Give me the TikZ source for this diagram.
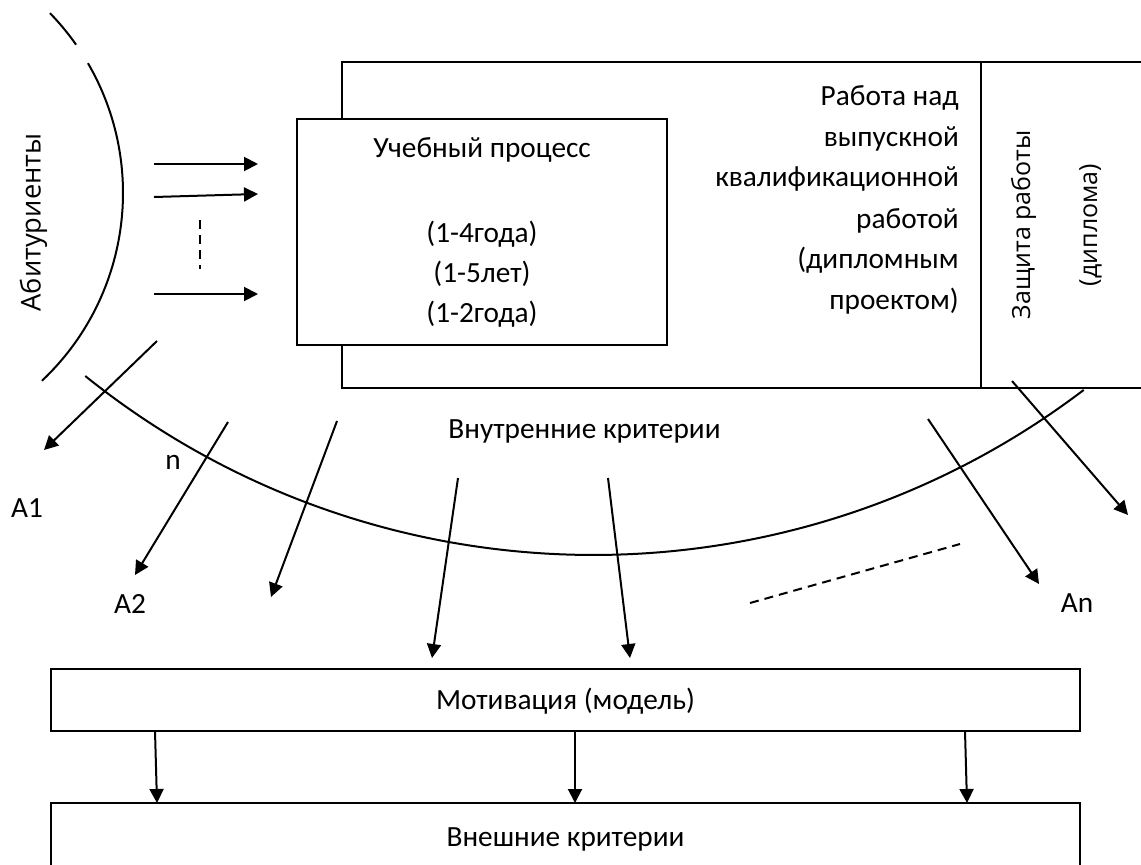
\documentclass[tikz,border=0pt]{standalone}
\usepackage{fontspec}
\setmainfont{Carlito}
\newfontfamily\osans{Open Sans}
\usetikzlibrary{arrows.meta}
\begin{document}
\begin{tikzpicture}[x=1pt,y=1pt,
  ln/.style={line width=2pt},
  arr/.style={ln,-{Triangle[length=14pt,width=14pt]}},
  dsh/.style={line width=2pt,dash pattern=on 9pt off 6pt},
  lbl/.style={font=\fontsize{29.3}{34}\selectfont,inner sep=0pt,anchor=base},
  rlbl/.style={font=\fontsize{29.3}{34}\selectfont,inner sep=0pt,anchor=base east},
  vlbl/.style={font=\osans\fontsize{25}{30}\selectfont,inner sep=0pt,anchor=base,rotate=90},
  boxnode/.style={draw,ln,fill=white,inner sep=0pt}]
\useasboundingbox (0,0) rectangle (1141,-865);
\clip (0,0) rectangle (1141,-865);
% outer frame (open to the right)
\coordinate (o1) at (1145,-62);
\coordinate (o2) at (342,-62);
\coordinate (o3) at (342,-388);
\coordinate (o4) at (1145,-388);
\coordinate (dv1) at (981,-62);
\coordinate (dv2) at (981,-388);
\draw[ln] (o1) -- (o2) -- (o3) -- (o4);
\draw[ln] (dv1) -- (dv2);
% inner box
\node[boxnode,minimum width=370pt,minimum height=226pt] (proc) at (482,-231.5) {};
\node[lbl] (t1) at (482,-157) {Учебный процесс};
\node[lbl] (t2) at (482,-242) {(1-4года)};
\node[lbl] (t3) at (482,-282) {(1-5лет)};
\node[lbl] (t4) at (482,-322) {(1-2года)};
% right text
\node[rlbl] (r1) at (959,-105) {Работа над};
\node[rlbl] (r2) at (959,-146) {выпускной};
\node[rlbl] (r3) at (959,-186) {квалификационной};
\node[rlbl] (r4) at (959,-228) {работой};
\node[rlbl] (r5) at (959,-268) {(дипломным};
\node[rlbl] (r6) at (959,-309) {проектом)};
% vertical texts
\node[vlbl] (zw) at (1030,-225) {Защита работы};
\node[vlbl] (dp) at (1097,-225) {(диплома)};
\node[vlbl,font=\osans\fontsize{27.3}{32}\selectfont] (ab) at (40.5,-222.5) {Абитуриенты};
% left arc
\coordinate (lc) at (-135,-193);
\draw[ln] (lc) ++(44.2:258) arc[start angle=44.2,end angle=35.1,radius=258];
\draw[ln] (lc) ++(30.2:258) arc[start angle=30.2,end angle=-46.7,radius=258];
% bottom arc
\coordinate (bc) at (593.4,256);
\draw[ln] (bc) ++(231.2:811) arc[start angle=231.2,end angle=307.2,radius=811];
% input arrows
\coordinate (a1s) at (154,-164); \coordinate (a1e) at (258,-164);
\coordinate (a2s) at (154,-197); \coordinate (a2e) at (258,-194);
\coordinate (a3s) at (154,-294); \coordinate (a3e) at (258,-294);
\coordinate (vd1) at (200,-220); \coordinate (vd2) at (200,-269);
\draw[arr] (a1s) -- (a1e);
\draw[arr] (a2s) -- (a2e);
\draw[arr] (a3s) -- (a3e);
\draw[dsh] (vd1) -- (vd2);
% output arrows
\coordinate (d1s) at (157,-341); \coordinate (d1e) at (44,-450);
\coordinate (d2s) at (228,-422); \coordinate (d2e) at (135,-575);
\coordinate (d3s) at (337,-421); \coordinate (d3e) at (271,-597);
\coordinate (d4s) at (458,-478); \coordinate (d4e) at (432,-658);
\coordinate (d5s) at (608,-478); \coordinate (d5e) at (630,-658);
\coordinate (d6s) at (928,-419); \coordinate (d6e) at (1039,-584);
\coordinate (d7s) at (1012,-381); \coordinate (d7e) at (1128,-515);
\draw[arr] (d1s) -- (d1e);
\draw[arr] (d2s) -- (d2e);
\draw[arr] (d3s) -- (d3e);
\draw[arr] (d4s) -- (d4e);
\draw[arr] (d5s) -- (d5e);
\draw[arr] (d6s) -- (d6e);
\draw[arr] (d7s) -- (d7e);
\coordinate (dd1) at (750,-603); \coordinate (dd2) at (960,-544);
\draw[dsh] (dd1) -- (dd2);
% labels
\node[lbl] (ln) at (173,-469) {n};
\node[lbl] (lA1) at (27,-517) {A1};
\node[lbl] (lA2) at (130,-613) {A2};
\node[lbl] (lAn) at (1077,-612) {An};
\node[lbl] (vk) at (584.5,-438) {Внутренние критерии};
% motivation box
\node[boxnode,minimum width=1029pt,minimum height=62pt] (mot) at (565.5,-700) {};
\node[lbl] (mott) at (565.5,-709) {Мотивация (модель)};
% external box (open at bottom)
\coordinate (e1) at (51,-870); \coordinate (e2) at (51,-803);
\coordinate (e3) at (1080,-803); \coordinate (e4) at (1080,-870);
\draw[ln] (e1) -- (e2) -- (e3) -- (e4);
\node[lbl] (ext) at (565.5,-846) {Внешние критерии};
% motivation -> external
\coordinate (m1s) at (155,-731); \coordinate (m1e) at (157,-803);
\coordinate (m2s) at (575,-731); \coordinate (m2e) at (575,-803);
\coordinate (m3s) at (965,-731); \coordinate (m3e) at (967,-803);
\draw[arr] (m1s) -- (m1e);
\draw[arr] (m2s) -- (m2e);
\draw[arr] (m3s) -- (m3e);
\end{tikzpicture}
\end{document}
